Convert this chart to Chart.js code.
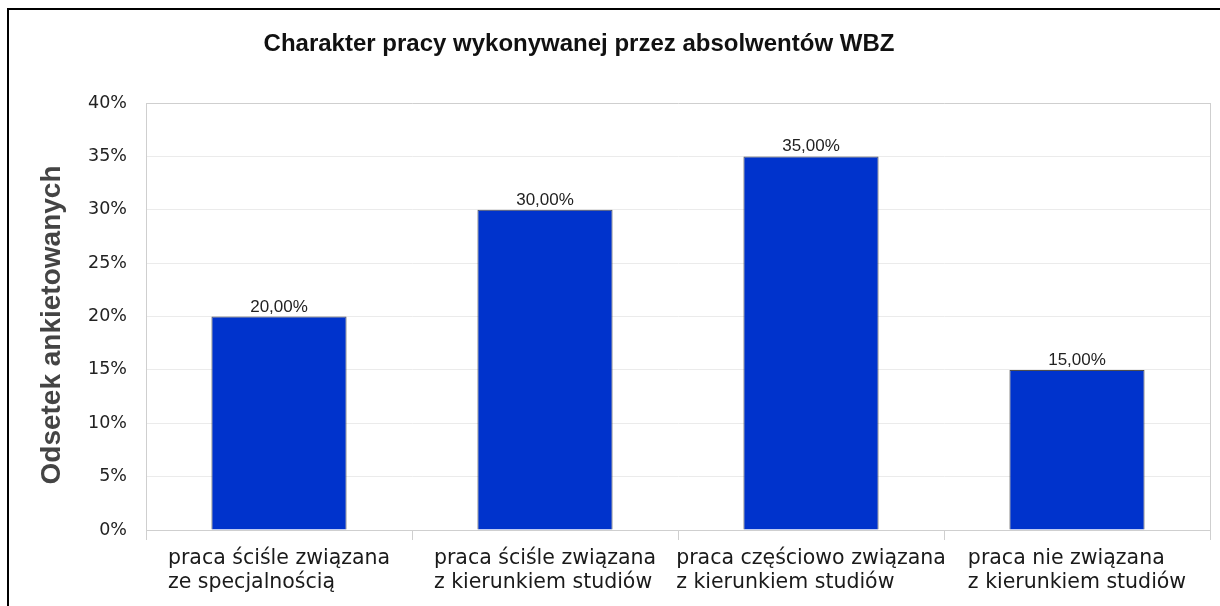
<!DOCTYPE html>
<html><head><meta charset="utf-8">
<script src="https://cdn.jsdelivr.net/npm/chart.js"></script>
<style>
html,body{margin:0;padding:0;background:#fff;}
#wrap{position:relative;width:1220px;height:606px;overflow:hidden;}
#frame{position:absolute;left:7px;top:8px;width:1400px;height:800px;border-left:2px solid #000;border-top:2px solid #000;pointer-events:none;}
canvas{position:absolute;left:0;top:0;}
</style></head><body>
<div id="wrap"><canvas id="c" width="1220" height="606"></canvas><div id="frame"></div></div>
<script>
const chartTitle = 'Charakter pracy wykonywanej przez absolwentów WBZ';
const yAxisTitle = 'Odsetek ankietowanych';
const categories = [
  ['praca ściśle związana', 'ze specjalnością'],
  ['praca ściśle związana', 'z kierunkiem studiów'],
  ['praca częściowo związana', 'z kierunkiem studiów'],
  ['praca nie związana', 'z kierunkiem studiów']
];
const values = [20, 30, 35, 15];
const yMin = 0, yMax = 40, yStep = 5;

const fmtValue = v => v.toFixed(2).replace('.', ',') + '%';

const textPlugin = {
  id: 'texts',
  afterDraw(chart) {
    const ctx = chart.ctx;
    const area = chart.chartArea;
    const xs = chart.scales.x;
    ctx.save();
    // right border of plot
    ctx.strokeStyle = '#cfcfcf';
    ctx.lineWidth = 1;
    ctx.beginPath();
    ctx.moveTo(area.right + 0.5, area.top);
    ctx.lineTo(area.right + 0.5, area.bottom + 10);
    ctx.stroke();

    // title
    ctx.fillStyle = '#111';
    ctx.font = 'bold 24px "Liberation Sans", Arial, sans-serif';
    ctx.textAlign = 'center';
    ctx.textBaseline = 'alphabetic';
    ctx.fillText(chartTitle, 579, 51);

    // y axis title
    ctx.save();
    ctx.translate(60, 325);
    ctx.rotate(-Math.PI / 2);
    ctx.fillStyle = '#444';
    ctx.font = 'bold 28px "Liberation Sans", Arial, sans-serif';
    ctx.textAlign = 'center';
    ctx.fillText(yAxisTitle, 0, 0);
    ctx.restore();

    // x category labels: centered blocks, lines left aligned
    ctx.fillStyle = '#1a1a1a';
    ctx.font = '20.5px "DejaVu Sans", sans-serif';
    ctx.textAlign = 'left';
    categories.forEach((lines, i) => {
      const cx = xs.getPixelForValue(i);
      const w = Math.max(...lines.map(l => ctx.measureText(l).width));
      const x0 = cx - w / 2;
      lines.forEach((l, j) => ctx.fillText(l, x0, area.bottom + 34 + j * 24));
    });

    // data labels
    const meta = chart.getDatasetMeta(0);
    ctx.fillStyle = '#222';
    ctx.font = '17px "Liberation Sans", Arial, sans-serif';
    ctx.textAlign = 'center';
    meta.data.forEach((bar, i) => {
      ctx.fillText(fmtValue(values[i]), bar.x, bar.y - 5);
    });
    ctx.restore();
  }
};

new Chart(document.getElementById('c'), {
  type: 'bar',
  data: {
    labels: categories,
    datasets: [{
      data: values,
      backgroundColor: '#0033cc',
      borderColor: '#4d4d4d',
      borderWidth: 1,
      categoryPercentage: 1,
      barPercentage: 0.508
    }]
  },
  options: {
    responsive: false,
    animation: false,
    layout: { padding: { top: 103, right: 10, left: 0, bottom: 0 } },
    plugins: { legend: { display: false }, tooltip: { enabled: false }, title: { display: false } },
    scales: {
      x: {
        offset: true,
        grid: { offset: true, drawOnChartArea: false, drawTicks: true, tickLength: 10, color: '#cfcfcf' },
        border: { color: '#cfcfcf' },
        ticks: { display: false },
        afterFit(s) { s.height = 76; }
      },
      y: {
        min: yMin, max: yMax,
        ticks: {
          stepSize: yStep,
          padding: 19,
          color: '#222',
          font: { family: '"DejaVu Sans", sans-serif', size: 17.5 },
          callback: v => v + '%'
        },
        grid: {
          drawTicks: false,
          color: c => (c.tick && (c.tick.value === yMax || c.tick.value === yMin)) ? '#cfcfcf' : '#ebebeb'
        },
        border: { color: '#cfcfcf' },
        afterFit(s) { s.width = 146; }
      }
    }
  },
  plugins: [textPlugin]
});
</script>
</body></html>
